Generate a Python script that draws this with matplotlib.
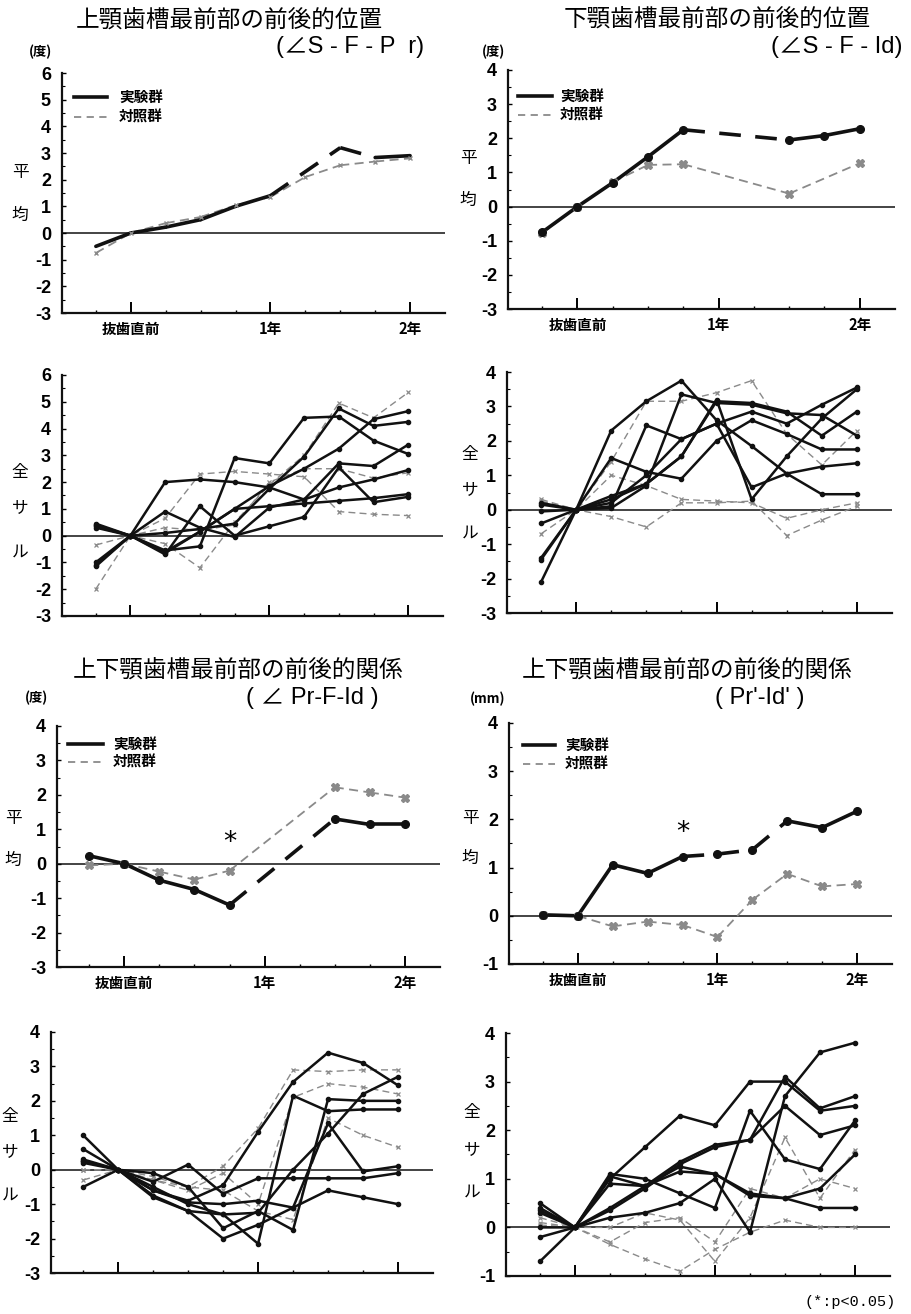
import numpy as np
import matplotlib
matplotlib.use("Agg")
import matplotlib.pyplot as plt
from matplotlib.lines import Line2D

plt.rcParams['font.family'] = ['Noto Sans CJK JP', 'DejaVu Sans']

W, H = 911, 1314
nan = np.nan

# Observation periods (index 1 = just before extraction, 5 = 1 year, 9 = 2 years)
periods = np.arange(10)
period_labels = ["", "抜歯直前", "", "", "", "1年", "", "", "", "2年"]
legend_labels = ["実験群", "対照群"]

# ---- Group means ----
sfpr_exp_mean = [-0.50, 0.00, 0.22, 0.50, 1.00, 1.40, nan, 3.20, 2.83, 2.90]
sfpr_ctl_mean = [-0.75, 0.00, 0.37, 0.60, 1.04, 1.35, 2.10, 2.54, 2.68, 2.80]
sfid_exp_mean = [-0.75, 0.00, 0.70, 1.46, 2.25, nan, nan, 1.95, 2.08, 2.28]
sfid_ctl_mean = [-0.78, 0.00, 0.72, 1.22, 1.24, nan, nan, 0.38, nan, 1.27]
prfid_exp_mean = [0.23, 0.00, -0.48, -0.75, -1.20, nan, nan, 1.30, 1.14, 1.14]
prfid_ctl_mean = [-0.05, 0.00, -0.23, -0.46, -0.20, nan, nan, 2.22, 2.07, 1.92]
prid_exp_mean = [0.02, 0.00, 1.06, 0.88, 1.23, 1.28, 1.37, 1.97, 1.83, 2.17]
prid_ctl_mean = [0.02, 0.00, -0.22, -0.12, -0.19, -0.44, 0.33, 0.87, 0.61, 0.66]

# ---- Individual animals: experimental (exp) and control (ctl) ----
sfpr_exp_ind = [
    [0.45, 0, 2.00, 2.10, 2.00, 1.80, 1.35, 1.80, 2.10, 2.45],
    [0.30, 0, -0.60, 0.15, 1.00, 1.85, 2.50, 3.25, 4.35, 4.65],
    [-1.15, 0, -0.55, -0.40, 2.90, 2.70, 4.40, 4.45, 3.55, 3.05],
    [-1.00, 0, 0.90, 0.30, -0.05, 1.05, 1.35, 2.70, 2.60, 3.40],
    [0.35, 0, 0.10, 0.25, 0.45, 1.75, 2.95, 4.75, 4.10, 4.25],
    [-1.10, 0, -0.70, 1.10, 0.00, 0.35, 0.70, 2.55, 1.25, 1.45],
    [0.40, 0, -0.65, 0.15, 1.00, 1.10, 1.20, 1.30, 1.40, 1.55],
]
sfpr_ctl_ind = [
    [-2.00, 0, 0.65, 2.30, 2.40, 2.30, 2.20, 0.90, 0.80, 0.75],
    [-0.35, 0, -0.30, -1.20, 0.50, 1.90, 3.00, 4.95, 4.40, 5.35],
    [0.30, 0, 0.30, 0.20, 0.40, 2.00, 2.50, 2.50, 2.15, 2.35],
]
sfid_exp_ind = [
    [-2.10, 0, 2.30, 3.15, 3.75, 2.60, 1.85, 1.05, 0.45, 0.45],
    [-1.45, 0, 1.50, 1.10, 0.90, 2.00, 2.60, 2.20, 1.75, 1.75],
    [0.20, 0, 0.10, 2.45, 2.05, 2.50, 2.85, 2.50, 3.05, 3.55],
    [-0.40, 0, 0.40, 0.75, 1.55, 3.20, 0.30, 1.55, 2.65, 3.50],
    [0.15, 0, 0.05, 0.70, 3.35, 3.10, 3.05, 2.80, 2.75, 2.15],
    [-1.40, 0, 0.20, 1.00, 2.05, 2.50, 0.65, 1.05, 1.25, 1.35],
    [-0.05, 0, 0.30, 0.75, 1.55, 3.15, 3.10, 2.85, 2.15, 2.85],
]
sfid_ctl_ind = [
    [0.30, 0, 1.40, 3.15, 3.15, 3.40, 3.75, 2.20, 1.30, 2.30],
    [-0.70, 0, 1.00, 0.70, 0.30, 0.25, 0.20, -0.25, 0.00, 0.20],
    [0.25, 0, -0.20, -0.50, 0.20, 0.20, 0.25, -0.75, -0.30, 0.10],
]
prfid_exp_ind = [
    [1.00, 0, -0.60, -0.90, -0.45, 1.10, 2.55, 3.40, 3.10, 2.45],
    [0.60, 0, -0.75, -1.20, -2.00, -1.60, -1.10, 1.35, -0.05, 0.10],
    [0.30, 0, -0.35, 0.15, -0.70, -0.25, -0.25, -0.25, -0.25, -0.10],
    [0.20, 0, -0.80, -1.20, -1.30, -2.15, 2.15, 1.70, 1.75, 1.75],
    [-0.50, 0, -0.10, -0.50, -1.70, -1.20, -1.75, 2.05, 2.00, 2.00],
    [0.25, 0, -0.60, -0.95, -1.00, -0.90, -1.10, -0.60, -0.80, -1.00],
    [0.25, 0, -0.50, -1.00, -1.30, -1.25, 0.00, 1.05, 2.20, 2.70],
]
prfid_ctl_ind = [
    [0.00, 0, -0.30, -0.50, 0.10, 1.20, 2.90, 2.85, 2.90, 2.90],
    [-0.30, 0, -0.30, -0.60, -0.10, -1.00, 2.10, 2.50, 2.40, 2.20],
    [0.00, 0, -0.20, -0.50, -0.60, -1.20, -1.45, 1.50, 1.00, 0.65],
]
prid_exp_ind = [
    [-0.70, 0, 1.00, 1.65, 2.30, 2.10, 3.00, 3.00, 2.40, 2.50],
    [0.50, 0, 1.10, 1.00, 0.70, 0.40, 2.40, 1.40, 1.20, 2.20],
    [0.40, 0, 0.35, 0.80, 1.30, 1.65, 1.80, 2.50, 1.90, 2.10],
    [0.30, 0, 0.20, 0.30, 0.50, 1.00, -0.10, 2.70, 3.60, 3.80],
    [-0.20, 0, 1.05, 0.85, 1.35, 1.70, 1.80, 3.10, 2.45, 2.70],
    [0.35, 0, 0.90, 0.85, 1.25, 1.10, 0.65, 0.60, 0.40, 0.40],
    [0.00, 0, 0.40, 0.85, 1.15, 1.10, 0.70, 0.60, 0.80, 1.50],
]
prid_ctl_ind = [
    [0.20, 0, -0.35, -0.65, -0.90, -0.45, -0.10, 0.15, 0.00, 0.00],
    [0.05, 0, 0.00, 0.30, 0.15, -0.70, 0.20, 1.85, 0.60, 1.60],
    [0.10, 0, -0.30, 0.10, 0.20, -0.30, 0.80, 0.60, 1.00, 0.80],
]

BLACK = "#111111"
GRAY = "#8a8a8a"

fig = plt.figure(figsize=(W / 100, H / 100), dpi=100)


def add_axes_px(x0, y0, x1, y1):
    return fig.add_axes([x0 / W, 1 - y1 / H, (x1 - x0) / W, (y1 - y0) / H])


def ftext(x, y, s, **kw):
    kw.setdefault("ha", "center")
    kw.setdefault("va", "center")
    fig.text(x / W, 1 - y / H, s, **kw)


def style_axes(ax, ylim, xlim, show_labels):
    ax.set_xlim(*xlim)
    ax.set_ylim(*ylim)
    for side in ("top", "right"):
        ax.spines[side].set_visible(False)
    for side in ("left", "bottom"):
        ax.spines[side].set_linewidth(1.6)
        ax.spines[side].set_color(BLACK)
    ax.axhline(0, color=BLACK, lw=1.1, zorder=1)
    ax.set_xticks([1, 5, 9])
    ax.set_xticks([0, 2, 3, 4, 6, 7, 8], minor=True)
    if show_labels:
        ax.set_xticklabels([period_labels[i] for i in (1, 5, 9)],
                           fontsize=10.5, fontweight="bold")
    else:
        ax.set_xticklabels([])
    ax.tick_params(axis="x", which="major", direction="in", length=8, width=1.4, pad=6)
    ax.tick_params(axis="x", which="minor", direction="in", length=2.5, width=1.0)
    ax.set_yticks(np.arange(ylim[0], ylim[1] + 1))
    ax.set_yticks(np.arange(ylim[0], ylim[1], 0.5), minor=True)
    ax.set_yticklabels([str(int(v)) for v in np.arange(ylim[0], ylim[1] + 1)],
                       fontsize=13, fontweight="bold", family="Liberation Sans")
    ax.tick_params(axis="y", which="major", direction="in", length=3, width=1.0, pad=8)
    ax.tick_params(axis="y", which="minor", direction="in", length=2, width=0.8)


def draw_mean(ax, values, dashed_span, color, lw, marker, ms, dash):
    """dashed_span: None (all solid), 'all' (all dashed) or (start, end) indices."""
    vals = np.asarray(values, dtype=float)
    idx = [i for i in range(len(vals)) if not np.isnan(vals[i])]
    for a, b in zip(idx[:-1], idx[1:]):
        if dashed_span == "all":
            dashed = True
        elif dashed_span is None:
            dashed = False
        else:
            dashed = dashed_span[0] <= a and b <= dashed_span[1]
        ls = (0, dash) if dashed else "-"
        ax.plot([periods[a], periods[b]], [vals[a], vals[b]], color=color, lw=lw,
                linestyle=ls, solid_capstyle="round", zorder=3)
    if marker:
        ax.plot(periods[idx], vals[idx], linestyle="none", marker=marker, ms=ms,
                color=color, mec=color, zorder=4)


def draw_individuals(ax, exp_lines, ctl_lines):
    for ys in ctl_lines:
        ax.plot(periods, ys, color=GRAY, lw=1.0, linestyle=(0, (5, 3)),
                marker="x", ms=3, mew=0.9, zorder=2)
    for ys in exp_lines:
        ax.plot(periods, ys, color=BLACK, lw=1.8, marker="o", ms=3, zorder=3)


def legend_px(x0, x1, y_exp, y_ctl, xt):
    fig.add_artist(Line2D([x0 / W, x1 / W], [1 - y_exp / H, 1 - y_exp / H],
                          color=BLACK, lw=2.6))
    fig.add_artist(Line2D([x0 / W, x1 / W], [1 - y_ctl / H, 1 - y_ctl / H],
                          color=GRAY, lw=1.3, linestyle=(0, (4, 3))))
    ftext(xt, y_exp, legend_labels[0], ha="left", fontsize=10.5, fontweight="bold")
    ftext(xt, y_ctl, legend_labels[1], ha="left", fontsize=10.5, fontweight="bold")


def side_label(x, ys, chars):
    for y, c in zip(ys, chars):
        ftext(x, y, c, fontsize=12)


XL = (-0.97, 10.0)

# ---- Row 1: means of angular position ----
ax1 = add_axes_px(62, 73, 445, 313)
style_axes(ax1, (-3, 6), XL, True)
draw_mean(ax1, sfpr_ctl_mean, "all", GRAY, 1.3, "x", 3.5, (5, 3))
draw_mean(ax1, sfpr_exp_mean, (5, 8), BLACK, 2.6, None, 0, (6, 4))

ax2 = add_axes_px(508, 70, 895, 309)
style_axes(ax2, (-3, 4), XL, True)
draw_mean(ax2, sfid_ctl_mean, "all", GRAY, 1.3, "X", 6, (5, 3))
draw_mean(ax2, sfid_exp_mean, (4, 7), BLACK, 2.6, "o", 5.5, (6, 4))

# ---- Row 2: individual animals ----
ax3 = add_axes_px(62, 375, 443, 616)
style_axes(ax3, (-3, 6), XL, False)
draw_individuals(ax3, sfpr_exp_ind, sfpr_ctl_ind)

ax4 = add_axes_px(507, 372, 892, 613)
style_axes(ax4, (-3, 4), XL, False)
draw_individuals(ax4, sfid_exp_ind, sfid_ctl_ind)

# ---- Row 3: means of inter-arch relation ----
ax5 = add_axes_px(57, 726, 440, 967)
style_axes(ax5, (-3, 4), (-0.92, 10.0), True)
draw_mean(ax5, prfid_ctl_mean, "all", GRAY, 1.3, "X", 6, (5, 3))
draw_mean(ax5, prfid_exp_mean, (4, 7), BLACK, 2.6, "o", 5.5, (6, 4))
ax5.text(4, 0.6, "*", ha="center", va="center", fontsize=19, family="DejaVu Sans")

ax6 = add_axes_px(509, 723, 892, 964)
style_axes(ax6, (-1, 4), XL, True)
draw_mean(ax6, prid_ctl_mean, "all", GRAY, 1.3, "X", 6, (5, 3))
draw_mean(ax6, prid_exp_mean, (4, 7), BLACK, 2.6, "o", 5.5, (6, 4))
ax6.text(4, 1.72, "*", ha="center", va="center", fontsize=19, family="DejaVu Sans")

# ---- Row 4: individual animals ----
ax7 = add_axes_px(51, 1032, 433, 1273)
style_axes(ax7, (-3, 4), (-0.92, 10.0), False)
draw_individuals(ax7, prfid_exp_ind, prfid_ctl_ind)

ax8 = add_axes_px(506, 1033, 890, 1276)
style_axes(ax8, (-1, 4), XL, False)
draw_individuals(ax8, prid_exp_ind, prid_ctl_ind)

# ---- Titles ----
SUB = ["Liberation Sans", "Noto Sans CJK JP"]
ftext(229, 21, "上顎歯槽最前部の前後的位置", fontsize=17)
ftext(350, 47, "(∠S - F - P  r)", fontsize=17, family=SUB)
ftext(717, 20, "下顎歯槽最前部の前後的位置", fontsize=17)
ftext(837, 47, "(∠S - F - Id)", fontsize=17, family=SUB)
ftext(238, 671, "上下顎歯槽最前部の前後的関係", fontsize=17)
ftext(312, 698, "( ∠ Pr-F-Id )", fontsize=17, family=SUB)
ftext(687, 671, "上下顎歯槽最前部の前後的関係", fontsize=17)
ftext(760, 698, "( Pr'-Id' )", fontsize=17, family=SUB)

# ---- Units ----
ftext(40, 52, "(度)", fontsize=9.5, fontweight="bold")
ftext(493, 52, "(度)", fontsize=9.5, fontweight="bold")
ftext(37, 698, "(度)", fontsize=9.5, fontweight="bold")
ftext(488, 699, "(mm)", fontsize=9.5, fontweight="bold")

# ---- Side labels ----
side_label(20, [172, 215], "平均")
side_label(468, [158, 200], "平均")
side_label(20, [472, 508, 552], "全サル")
side_label(470, [455, 490, 533], "全サル")
side_label(13, [818, 860], "平均")
side_label(470, [818, 858], "平均")
side_label(10, [1116, 1152, 1195], "全サル")
side_label(472, [1113, 1150, 1192], "全サル")

# ---- Legends ----
legend_px(74, 107, 97, 117, 119)
legend_px(518, 552, 96, 115, 560)
legend_px(68, 103, 744, 762, 113)
legend_px(523, 555, 745, 764, 565)

ftext(850, 1302, "(*:p<0.05)", fontsize=11, family="Liberation Mono")

fig.savefig("out.png", dpi=100)
